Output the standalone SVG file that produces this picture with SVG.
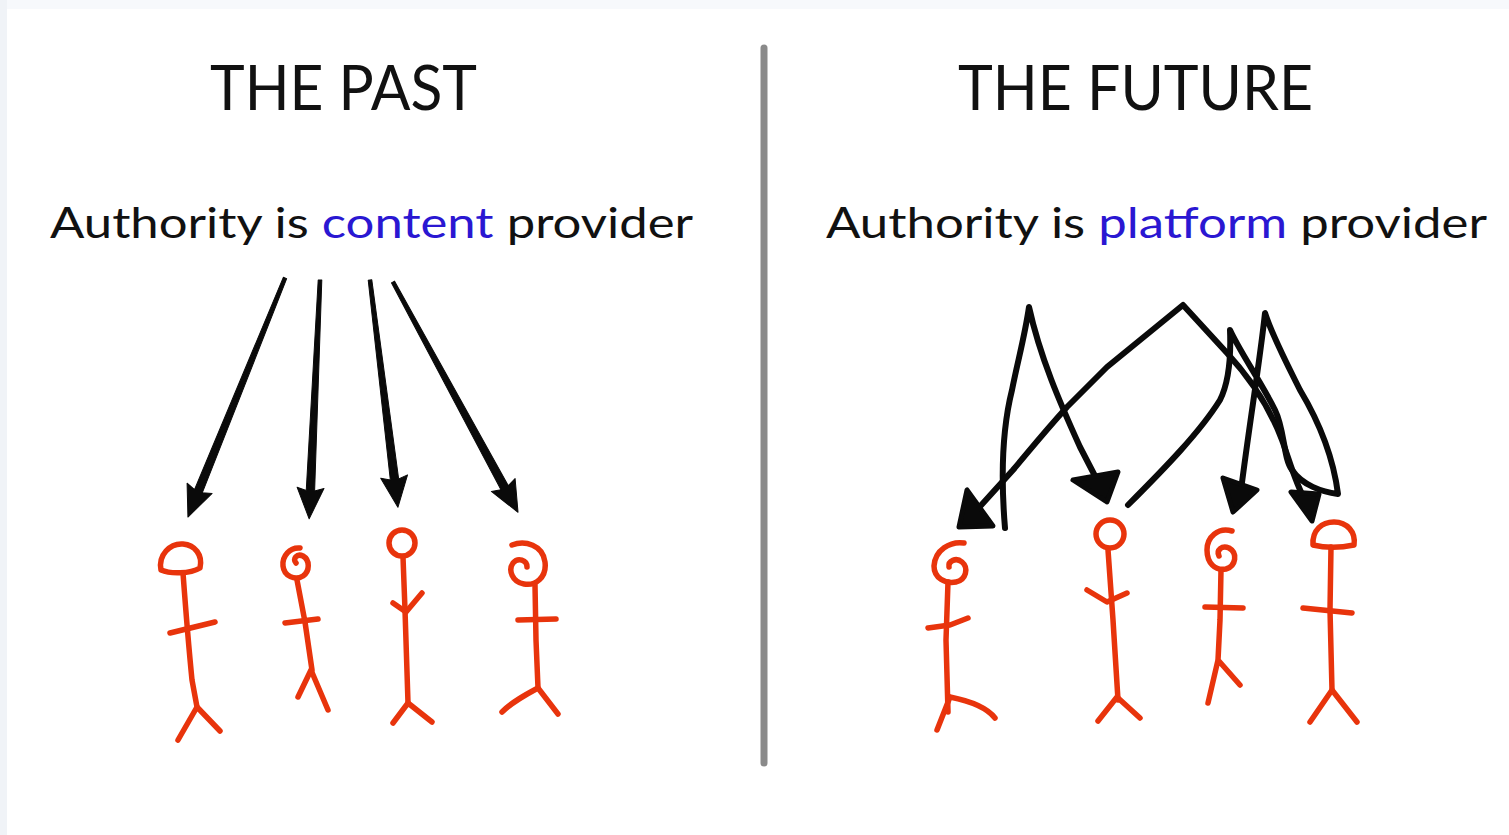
<svg xmlns="http://www.w3.org/2000/svg" width="1509" height="835" viewBox="0 0 1509 835">
<style>
.title{font-family:Lato,"Liberation Sans",sans-serif;font-size:62px;fill:#111}
.sub{font-family:Lato,"Liberation Sans",sans-serif;font-size:43px;fill:#111}
.hl{fill:#2a17d2}
.fig{fill:none;stroke:#e8340c;stroke-width:5.5;stroke-linecap:round;stroke-linejoin:round}
.ink{fill:none;stroke:#0a0a0a;stroke-width:6;stroke-linecap:round;stroke-linejoin:round}
.head{fill:#0a0a0a;stroke:#0a0a0a;stroke-width:5;stroke-linejoin:round}
.arr{fill:#0a0a0a;stroke:#0a0a0a;stroke-width:1;stroke-linejoin:round}
</style>
<rect x="0" y="0" width="1509" height="835" fill="#ffffff"/>
<rect x="0" y="0" width="1509" height="9" fill="#f7f9fc"/>
<rect x="0" y="0" width="7" height="835" fill="#f0f3f7"/>

<g id="divider"><line x1="764" y1="48" x2="764" y2="763" stroke="#8a8a8a" stroke-width="7" stroke-linecap="round"/></g>

<g id="title-past"><text class="title" x="210" y="110" textLength="267" lengthAdjust="spacingAndGlyphs">THE PAST</text></g>
<g id="title-future"><text class="title" x="958" y="110" textLength="355" lengthAdjust="spacingAndGlyphs">THE FUTURE</text></g>
<g id="sub-past"><text class="sub" x="50" y="238" textLength="643" lengthAdjust="spacingAndGlyphs">Authority is <tspan class="hl">content</tspan> provider</text></g>
<g id="sub-future"><text class="sub" x="826" y="238" textLength="661" lengthAdjust="spacingAndGlyphs">Authority is <tspan class="hl">platform</tspan> provider</text></g>

<g id="connectors">
  <g transform="translate(285,278) rotate(112.1)"><polygon class="arr" points="0,-1.8 230,-4.2 227,-13.5 258,0 227,13.5 230,4.2 0,1.8"/></g>
  <g transform="translate(320,280) rotate(92.6)"><polygon class="arr" points="0,-1.8 211,-4.2 208,-13.5 239,0 208,13.5 211,4.2 0,1.8"/></g>
  <g transform="translate(370,280) rotate(83)"><polygon class="arr" points="0,-1.8 201,-4.2 198,-13.5 229,0 198,13.5 201,4.2 0,1.8"/></g>
  <g transform="translate(393,282) rotate(61.5)"><polygon class="arr" points="0,-1.8 234,-4.2 231,-13.5 262,0 231,13.5 234,4.2 0,1.8"/></g>

  <path class="ink" d="M1005,528 C1001,480 1002,430 1012,390 C1018,360 1025,335 1029,307 C1040,357 1060,403 1080,447 L1095,476"/>
  <polygon class="head" points="1073,480 1118,472 1107,502"/>

  <path class="ink" d="M975,512 L1013,470 C1030,450 1040,437 1067,407 L1107,367 L1183,305 L1227,353 C1250,378 1270,408 1282,440 C1290,462 1295,482 1305,500"/>
  <polygon class="head" points="967,490 959,527 993,526"/>
  <polygon class="head" points="1291,492 1319,494 1312,521"/>

  <path class="ink" d="M1128,505 C1165,468 1200,432 1220,400 C1230,380 1231,355 1230,330 C1240,352 1260,380 1275,410 C1285,430 1283,458 1292,470 C1302,485 1322,492 1338,494 C1333,455 1318,420 1300,390 C1285,360 1272,335 1265,313 C1260,360 1250,420 1241,490"/>
  <polygon class="head" points="1223,478 1257,490 1233,512"/>
</g>

<g id="person-past-1" class="fig">
  <path d="M161,570 C158,555 170,543 183,544 C195,545 203,555 200,568 C190,574 170,574 161,570 Z"/>
  <path d="M183,573 C185,600 188,640 192,680 L197,707"/>
  <path d="M170,633 L215,622"/>
  <path d="M197,707 L178,740 M197,707 L220,731"/>
</g>
<g id="person-past-2" class="fig">
  <path d="M300,548 C290,547 282,556 283,566 C284,576 295,581 303,576 C310,571 310,560 303,556 C297,553 292,559 296,563"/>
  <path d="M297,580 L305,622 L312,670"/>
  <path d="M285,623 L318,619"/>
  <path d="M311,670 L298,697 M311,670 L328,710"/>
</g>
<g id="person-past-3" class="fig">
  <circle cx="402" cy="543" r="13"/>
  <path d="M403,557 L405,610 L408,703"/>
  <path d="M393,603 L406,612 L422,593"/>
  <path d="M408,703 L393,723 M408,703 L432,722"/>
</g>
<g id="person-past-4" class="fig">
  <path d="M512,545 C525,540 543,545 545,562 C547,578 535,586 524,584 C512,582 508,570 513,563 C518,557 527,560 527,567"/>
  <path d="M535,585 L536,640 L538,688"/>
  <path d="M518,620 L556,619"/>
  <path d="M538,688 C525,695 512,702 502,712 M538,688 L558,714"/>
</g>

<g id="person-future-1" class="fig">
  <path d="M964,543 C950,541 935,550 934,566 C934,578 945,584 956,582 C966,580 969,568 962,562 C956,557 948,561 949,567"/>
  <path d="M948,582 L946,640 L948,712"/>
  <path d="M928,628 L950,625 L968,618"/>
  <path d="M950,697 L937,730 M950,697 C965,700 985,705 995,718"/>
</g>
<g id="person-future-2" class="fig">
  <circle cx="1110" cy="534" r="14"/>
  <path d="M1108,550 L1113,620 L1118,700"/>
  <path d="M1087,590 L1107,602 L1127,593"/>
  <path d="M1117,697 L1098,721 M1117,697 L1140,718"/>
</g>
<g id="person-future-3" class="fig">
  <path d="M1232,531 C1218,527 1207,537 1207,550 C1207,563 1215,571 1226,569 C1236,566 1238,553 1229,548 C1222,545 1216,550 1219,556"/>
  <path d="M1221,570 L1220,620 L1218,660 L1208,703 M1218,660 L1240,685"/>
  <path d="M1205,607 L1243,608"/>
</g>
<g id="person-future-4" class="fig">
  <path d="M1313,545 C1312,530 1322,522 1334,522 C1347,522 1356,532 1354,545 C1340,548 1325,548 1313,545 Z"/>
  <path d="M1331,547 L1330,610 L1332,690"/>
  <path d="M1303,608 L1352,613"/>
  <path d="M1332,690 L1310,722 M1332,690 L1357,722"/>
</g>
</svg>
